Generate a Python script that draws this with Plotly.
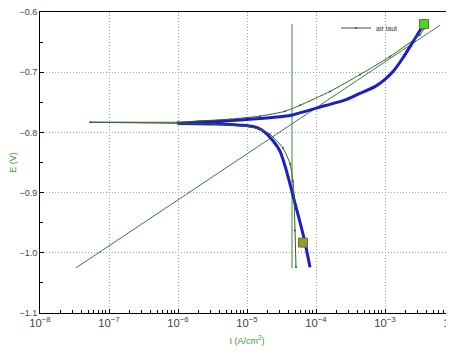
import plotly.graph_objects as go

# ---- data (log10 of current density, potential in V) ----
data_logI = [-4.290, -4.304, -4.319, -4.333, -4.377, -4.478, -4.667, -4.783, -4.957,
             -5.464, -6.000, -7.275, -6.000, -5.681, -5.246, -4.812, -4.449,
             -4.232, -3.797, -3.362, -2.928, -2.493, -2.435]
data_E = [-1.024, -0.963, -0.905, -0.881, -0.852, -0.826, -0.803, -0.796, -0.791,
          -0.786, -0.785, -0.783, -0.783, -0.781, -0.778, -0.773, -0.765,
          -0.755, -0.732, -0.704, -0.674, -0.638, -0.628]

fit_logI = [-4.087, -4.159, -4.246, -4.333, -4.435, -4.522, -4.609, -4.710, -4.783,
            -4.913, -5.101, -5.464, -6.000, -5.391, -4.812, -4.377, -3.942,
            -3.551, -3.362, -3.145, -3.000, -2.884, -2.739, -2.594, -2.435]
fit_E = [-1.024, -0.983, -0.943, -0.905, -0.861, -0.831, -0.816, -0.803, -0.796,
         -0.790, -0.788, -0.786, -0.785, -0.7815, -0.777, -0.772, -0.758,
         -0.745, -0.735, -0.724, -0.712, -0.699, -0.676, -0.6495, -0.620]

tafel_logI = [-7.478, -2.203]
tafel_E = [-1.025, -0.622]

limit_logI = [-4.348, -4.348]
limit_E = [-0.620, -1.026]

marker_logI = [-2.435, -4.188]
marker_E = [-0.620, -0.983]

def p(v):
    return [10 ** a for a in v]

fig = go.Figure()
fig.add_trace(go.Scatter(x=p(tafel_logI), y=tafel_E, mode="lines",
                         line=dict(color="#3d7a3d", width=1), showlegend=False))
fig.add_trace(go.Scatter(x=p(limit_logI), y=limit_E, mode="lines",
                         line=dict(color="#3d8a3d", width=1), showlegend=False))
fig.add_trace(go.Scatter(x=p(fit_logI), y=fit_E, mode="lines",
                         line=dict(color="#1c1cc8", width=3, shape="spline", smoothing=0.5),
                         showlegend=False))
fig.add_trace(go.Scatter(x=p(data_logI), y=data_E, mode="lines+markers",
                         name="air laut",
                         line=dict(color="#2f5f2f", width=1, shape="spline", smoothing=0.5),
                         marker=dict(size=2, color="#2f5f2f")))
fig.add_trace(go.Scatter(x=p(marker_logI), y=marker_E, mode="markers",
                         marker=dict(symbol="square", size=9,
                                     color=["#3bdc2a", "#7ea42c"],
                                     line=dict(color="#a0522d", width=1)),
                         showlegend=False))

grid_dash = "1px,2px"
# the page body has an 8px default margin, so the figure is sized to compensate
fig.update_layout(
    width=446, height=351,
    margin=dict(l=32, r=0, t=4, b=46),
    paper_bgcolor="white", plot_bgcolor="white",
    font=dict(family="Liberation Sans, Arial, sans-serif", size=9, color="#444"),
    legend=dict(x=0.715, y=0.995, xanchor="left", yanchor="top",
                bgcolor="rgba(0,0,0,0)", font=dict(size=7, color="#333"),
                itemwidth=30),
)
fig.update_xaxes(
    type="log", range=[-8, -2], dtick=1, exponentformat="power", automargin=False,
    showline=True, linecolor="black", linewidth=1, mirror=True,
    ticks="inside", ticklen=4, tickcolor="black", ticklabeloverflow="allow",
    showgrid=True, gridcolor="#a0a0a0", griddash=grid_dash, gridwidth=1,
    minor=dict(ticks="inside", ticklen=3, tickcolor="black", dtick="D1", showgrid=False),
    title=dict(text="I (A/cm<sup>2</sup>)", font=dict(color="#3a9a3a", size=9), standoff=9),
    zeroline=False,
)
fig.update_yaxes(
    range=[-1.1, -0.6], dtick=0.1, tickformat=".1f", automargin=False,
    showline=True, linecolor="black", linewidth=1, mirror=True,
    ticks="inside", ticklen=4, tickcolor="black", ticklabeloverflow="allow",
    showgrid=True, gridcolor="#a0a0a0", griddash=grid_dash, gridwidth=1,
    minor=dict(ticks="inside", ticklen=3, tickcolor="black", dtick=0.05, showgrid=False),
    title=dict(text="E (V)", font=dict(color="#3a9a3a", size=9), standoff=4),
    zeroline=False,
)

fig.write_html("out.html")
